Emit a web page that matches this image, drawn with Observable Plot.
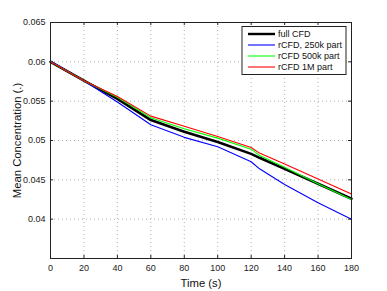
<!DOCTYPE html>
<html>
<head>
<meta charset="utf-8">
<script src="https://cdn.jsdelivr.net/npm/d3@7"></script>
<script src="https://cdn.jsdelivr.net/npm/@observablehq/plot@0.6"></script>
<style>
  html, body { margin: 0; padding: 0; background: #fff; }
  #chart svg { display: block; }
</style>
</head>
<body>
<div id="chart"></div>
<script>
// ---- data ----
const time = [0, 20, 40, 60, 80, 100, 120, 125, 140, 160, 180];
const fullCFD = [0.0600, 0.0576, 0.0553, 0.0526, 0.0511, 0.0498, 0.0483, 0.0478, 0.0464, 0.0445, 0.0426];
const rCFD250k = [0.0601, 0.0576, 0.0549, 0.0520, 0.0504, 0.0492, 0.0473, 0.0464, 0.0444, 0.0421, 0.0400];
const rCFD500k = [0.0600, 0.0576, 0.0555, 0.0529, 0.0515, 0.0503, 0.0489, 0.0481, 0.0466, 0.0445, 0.0425];
const rCFD1M = [0.0600, 0.0576, 0.0556, 0.0531, 0.0518, 0.0505, 0.0491, 0.0484, 0.0470, 0.0451, 0.0432];
const seriesNames = ["full CFD", "rCFD, 250k part", "rCFD 500k part", "rCFD 1M part"];
const seriesColors = ["#000000", "#0000ff", "#00ff00", "#ff0000"];
const seriesWidths = [2.6, 1.1, 1.1, 1.1];
const xTicks = [0, 20, 40, 60, 80, 100, 120, 140, 160, 180];
const yTicks = [0.04, 0.045, 0.05, 0.055, 0.06, 0.065];
const yTickLabels = ["0.04", "0.045", "0.05", "0.055", "0.06", "0.065"];

const allSeries = [fullCFD, rCFD250k, rCFD500k, rCFD1M];
const rows = allSeries.flatMap((vals, i) =>
  vals.map((v, j) => ({t: time[j], v, s: seriesNames[i]})));

const W = 387, H = 291;
const mL = 50, mR = 36, mT = 22, mB = 33;
const pw = W - mL - mR, ph = H - mT - mB;
const font = "'Liberation Sans', Arial, Helvetica, sans-serif";

const lineMarks = seriesNames.map((name, i) =>
  Plot.line(rows.filter(d => d.s === name), {
    x: "t", y: "v", stroke: seriesColors[i], strokeWidth: seriesWidths[i]
  }));

const plot = Plot.plot({
  width: W, height: H,
  marginLeft: mL, marginRight: mR, marginTop: mT, marginBottom: mB,
  style: {fontFamily: font, background: "#fff", overflow: "visible"},
  x: {domain: [0, 180]},
  y: {domain: [0.035, 0.065]},
  marks: [
    // dotted grid
    Plot.ruleX(xTicks.slice(1, -1), {stroke: "#b0b0b0", strokeDasharray: "1,3", strokeWidth: 1}),
    Plot.ruleY(yTicks.slice(0, -1), {stroke: "#b0b0b0", strokeDasharray: "1,3", strokeWidth: 1}),
    // inward tick marks on all four sides
    Plot.tickX(xTicks, {x: d => d, insetTop: ph - 3, stroke: "#222"}),
    Plot.tickX(xTicks, {x: d => d, insetBottom: ph - 3, stroke: "#222"}),
    Plot.tickY(yTicks, {y: d => d, insetRight: pw - 3, stroke: "#222"}),
    Plot.tickY(yTicks, {y: d => d, insetLeft: pw - 3, stroke: "#222"}),
    ...lineMarks,
    Plot.frame({stroke: "#222", strokeWidth: 1}),
    Plot.axisX(xTicks, {tickSize: 0, tickPadding: 6, fontSize: 9, fill: "#222",
      label: "Time (s)", labelAnchor: "center", labelArrow: "none", labelOffset: 28}),
    Plot.axisY(yTicks, {tickSize: 0, tickPadding: 5, fontSize: 9, fill: "#222",
      tickFormat: (d, i) => yTickLabels[i],
      label: "Mean Concentration (.)", labelAnchor: "center", labelArrow: "none", labelOffset: 38})
  ]
});

document.getElementById("chart").appendChild(plot);

// style axis labels (titles)
const svg = d3.select(plot);
svg.selectAll("[aria-label='x-axis label'] text, [aria-label='y-axis label'] text")
  .attr("font-size", 11.3).attr("fill", "#111");

// legend box inside the plot (top right)
const lx = 242, ly = 26.5, lw = 104, lh = 48;
const lg = svg.append("g").attr("font-family", font).attr("font-size", 9)
  .attr("text-anchor", "start");
lg.append("rect").attr("x", lx).attr("y", ly).attr("width", lw).attr("height", lh)
  .attr("fill", "#fff").attr("stroke", "#222").attr("stroke-width", 1);
seriesNames.forEach((name, i) => {
  const yy = ly + 7.5 + i * 11;
  lg.append("line").attr("x1", lx + 6).attr("x2", lx + 33).attr("y1", yy).attr("y2", yy)
    .attr("stroke", seriesColors[i]).attr("stroke-width", seriesWidths[i] === 2.6 ? 2.4 : 1.1);
  lg.append("text").attr("x", lx + 36).attr("y", yy).attr("dy", "0.35em")
    .attr("text-anchor", "start").attr("fill", "#111").text(name);
});
</script>
</body>
</html>
